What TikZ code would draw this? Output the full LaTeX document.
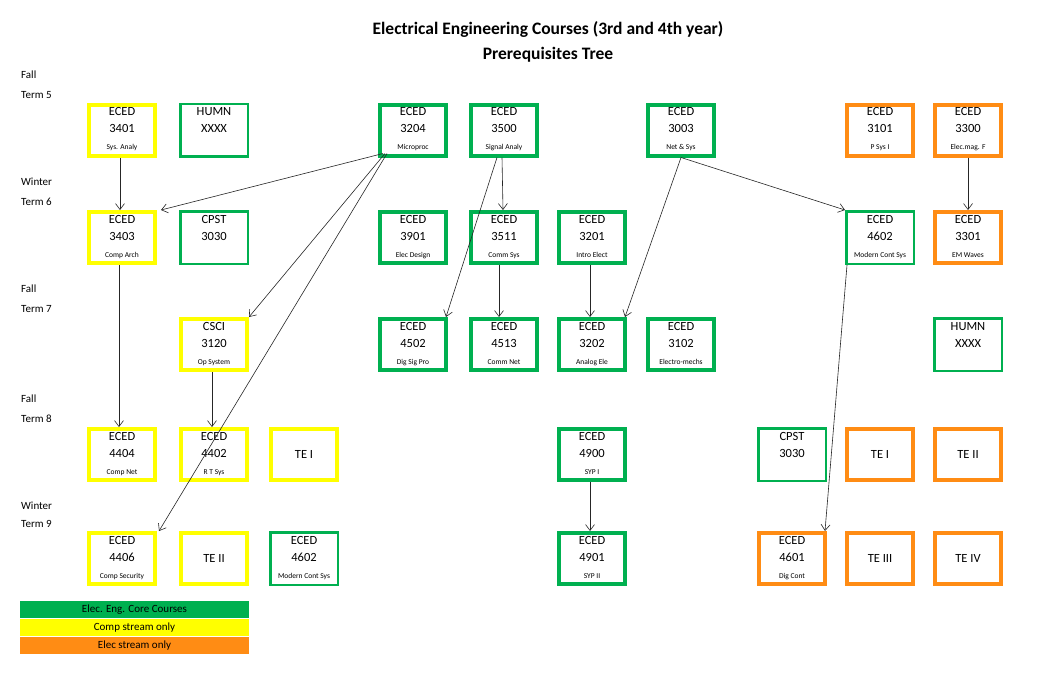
\documentclass[tikz,border=0pt]{standalone}
\usepackage{fontspec}
\setmainfont{Carlito}
\usetikzlibrary{arrows.meta}

\definecolor{coregreen}{RGB}{0,176,80}
\definecolor{compyellow}{RGB}{255,255,0}
\definecolor{elecorange}{RGB}{255,140,20}

\newcommand{\cname}[1]{{\fontsize{7.5}{8}\selectfont\strut #1}}

\begin{document}
\begin{tikzpicture}[x=1pt,y=-1pt,
  box/.style={draw,align=center,inner sep=0pt,line width=4pt,minimum width=66pt,minimum height=51pt,font=\fontsize{12.5}{17}\selectfont},
  slim/.style={line width=2.5pt,minimum width=67.5pt,minimum height=52.5pt},
  core/.style={box,draw=coregreen},
  comp/.style={box,draw=compyellow},
  elec/.style={box,draw=elecorange},
  term/.style={anchor=west,inner sep=0pt,font=\fontsize{11}{13}\selectfont},
  pre/.style={-{Straight Barb[length=6pt,width=9pt]},line width=0.6pt,black!85},
  key/.style={inner sep=0pt,minimum width=229pt,minimum height=17.5pt,font=\fontsize{11}{12}\selectfont}
]
%\draw[step=50pt,gray,very thin] (0,0) grid (1043,673); %background grid
\useasboundingbox[fill=white] (0,0) rectangle (1043,673);

\node[font=\fontsize{17.5}{20}\selectfont\bfseries] (title) at (548,29) {Electrical Engineering Courses (3rd and 4th year)};
\node[font=\fontsize{17.5}{20}\selectfont\bfseries] (subtitle) at (548,55) {Prerequisites Tree};

\node[term] (fall5) at (21,75) {Fall};
\node[term] (term5) at (21,95) {Term 5};
\node[term] (wint6) at (21,182) {Winter};
\node[term] (term6) at (21,202) {Term 6};
\node[term] (fall7) at (21,289) {Fall};
\node[term] (term7) at (21,309) {Term 7};
\node[term] (fall8) at (21,399) {Fall};
\node[term] (term8) at (21,419) {Term 8};
\node[term] (wint9) at (21,506) {Winter};
\node[term] (term9) at (21,524) {Term 9};

% term 5
\node[comp] (e3401) at (122,130) {ECED\\3401\\\cname{Sys. Analy}};
\node[core,slim] (h5) at (214,130) {HUMN\\XXXX\\\cname{}};
\node[core] (e3204) at (413,130) {ECED\\3204\\\cname{Microproc}};
\node[core] (e3500) at (504,130) {ECED\\3500\\\cname{Signal Analy}};
\node[core] (e3003) at (681,130) {ECED\\3003\\\cname{Net \& Sys}};
\node[elec] (e3101) at (880,130) {ECED\\3101\\\cname{P Sys I}};
\node[elec] (e3300) at (968,130) {ECED\\3300\\\cname{Elec.mag. F}};

% term 6
\node[comp] (e3403) at (122,237.5) {ECED\\3403\\\cname{Comp Arch}};
\node[core,slim] (c3030) at (214,237.5) {CPST\\3030\\\cname{}};
\node[core] (e3901) at (413,237.5) {ECED\\3901\\\cname{Elec Design}};
\node[core] (e3511) at (504,237.5) {ECED\\3511\\\cname{Comm Sys}};
\node[core] (e3201) at (592,237.5) {ECED\\3201\\\cname{Intro Elect}};
\node[core,slim] (e4602) at (880,237.5) {ECED\\4602\\\cname{Modern Cont Sys}};
\node[elec] (e3301) at (968,237.5) {ECED\\3301\\\cname{EM Waves}};

% term 7
\node[comp] (c3120) at (214,344.5) {CSCI\\3120\\\cname{Op System}};
\node[core] (e4502) at (413,344.5) {ECED\\4502\\\cname{Dig Sig Pro}};
\node[core] (e4513) at (504,344.5) {ECED\\4513\\\cname{Comm Net}};
\node[core] (e3202) at (592,344.5) {ECED\\3202\\\cname{Analog Ele}};
\node[core] (e3102) at (681,344.5) {ECED\\3102\\\cname{Electro-mechs}};
\node[core,slim] (h7) at (968,344.5) {HUMN\\XXXX\\\cname{}};

% term 8
\node[comp] (e4404) at (122,454.5) {ECED\\4404\\\cname{Comp Net}};
\node[comp] (e4402) at (214,454.5) {ECED\\4402\\\cname{R T Sys}};
\node[comp] (te1c) at (304,454.5) {TE I};
\node[core] (e4900) at (592,454.5) {ECED\\4900\\\cname{SYP I}};
\node[core,slim] (c3030b) at (792,454.5) {CPST\\3030\\\cname{}};
\node[elec] (te1e) at (880,454.5) {TE I};
\node[elec] (te2e) at (968,454.5) {TE II};

% term 9
\node[comp] (e4406) at (122,558.5) {ECED\\4406\\\cname{Comp Security}};
\node[comp] (te2c) at (214,558.5) {TE II};
\node[core,slim] (e4602b) at (304,558.5) {ECED\\4602\\\cname{Modern Cont Sys}};
\node[core] (e4901) at (592,558.5) {ECED\\4901\\\cname{SYP II}};
\node[elec] (e4601) at (792,558.5) {ECED\\4601\\\cname{Dig Cont}};
\node[elec] (te3) at (880,558.5) {TE III};
\node[elec] (te4) at (968,558.5) {TE IV};

% prerequisites
\draw[pre] ([xshift=-2pt]e3401.south) -- ([xshift=-2pt]e3403.north);
\draw[pre] ([shift={(5pt,4pt)}]e3204.south west) -- ([xshift=4pt]e3403.north east);
\draw[pre] ([shift={(7pt,4pt)}]e3204.south west) -- (c3120.north east);
\draw[pre] ([shift={(9pt,4pt)}]e3204.south west) -- ([xshift=2pt]e4406.north east);
\draw[pre] ([xshift=-2pt]e3500.south) -- ([xshift=-1pt]e3511.north);
\draw[pre] ([xshift=-7pt]e3500.south) -- ([xshift=-2pt]e4502.north east);
\draw[pre] (e3003.south) -- ([xshift=-2pt]e3202.north east);
\draw[pre] (e3003.south) -- (e4602.north west);
\draw[pre] (e3300.south) -- (e3301.north);
\draw[pre] ([xshift=-5pt]e3511.south) -- ([xshift=-5pt]e4513.north);
\draw[pre] ([xshift=-2pt]e3201.south) -- ([xshift=-2pt]e3202.north);
\draw[pre] ([xshift=-3pt]e3403.south) -- ([xshift=-3pt]e4404.north);
\draw[pre] ([xshift=-2pt]c3120.south) -- ([xshift=-2pt]e4402.north);
\draw[pre] ([xshift=2pt]e4602.south west) -- ([xshift=-2pt]e4601.north east);
\draw[pre] ([xshift=-2pt]e4900.south) -- ([xshift=-2pt]e4901.north);

% legend
\node[key,fill=coregreen] (kcore) at (134.5,609.5) {Elec. Eng. Core Courses};
\node[key,fill=compyellow] (kcomp) at (134.5,627.5) {Comp stream only};
\node[key,fill=elecorange] (kelec) at (134.5,645.5) {Elec stream only};

\end{tikzpicture}
\end{document}
